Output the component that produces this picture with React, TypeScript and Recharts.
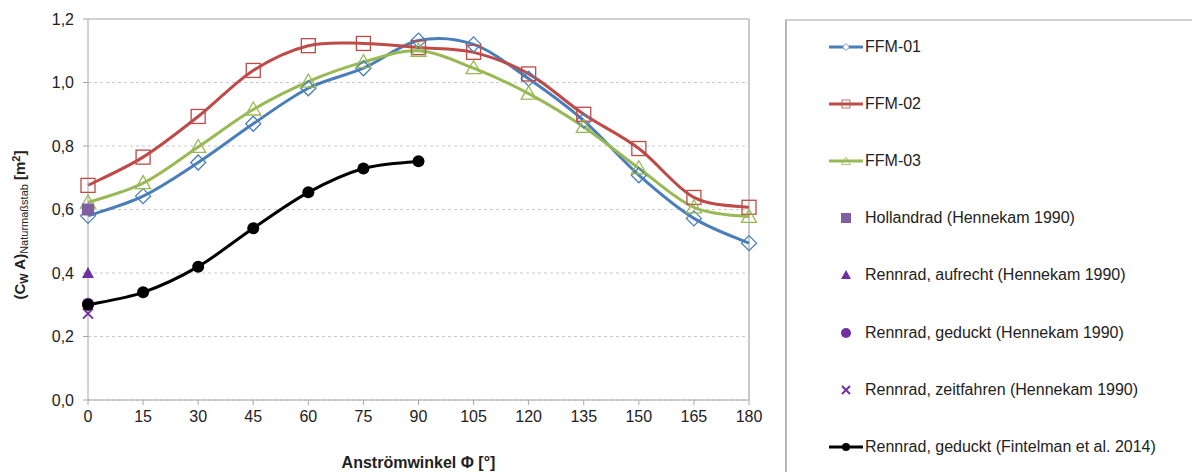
import React from "react"
import { ComposedChart, Line, XAxis, YAxis, CartesianGrid, ReferenceLine, Label } from "recharts"

// Anströmwinkel in Grad
const angles = [0, 15, 30, 45, 60, 75, 90, 105, 120, 135, 150, 165, 180]
const ffm01 = [0.58, 0.642, 0.748, 0.87, 0.982, 1.045, 1.132, 1.12, 1.012, 0.88, 0.708, 0.572, 0.494]
const ffm02 = [0.676, 0.765, 0.893, 1.038, 1.116, 1.123, 1.11, 1.095, 1.027, 0.9, 0.792, 0.638, 0.607]
const ffm03 = [0.622, 0.683, 0.797, 0.915, 1.003, 1.064, 1.1, 1.045, 0.965, 0.86, 0.73, 0.607, 0.577]

const fintelmanAngles = [0, 15, 30, 45, 60, 75, 90]
const fintelman = [0.3, 0.339, 0.42, 0.541, 0.654, 0.729, 0.752]

const hennekamAngle = 0
const hollandrad = 0.6
const rennradAufrecht = 0.4
const rennradGeduckt = 0.303
const rennradZeitfahren = 0.272

const xTicks = angles
const yTicks = [0, 0.2, 0.4, 0.6, 0.8, 1.0, 1.2]

const BLUE = "#4A7EBB"
const RED = "#BE4B48"
const GREEN = "#98B954"
const PURPLE = "#7030A0"
const PURPLE_SQ = "#7F5F9F"
const FONT = "Liberation Sans, Arial, sans-serif"

const toPoints = (xs: number[], ys: number[]) => xs.map((x, i) => ({ x, y: ys[i] }))

// Excel-like smoothed line (Catmull-Rom as bezier)
const excelSmooth = (context: any) => {
  let pts: number[][] = []
  return {
    areaStart() {},
    areaEnd() {},
    lineStart() {
      pts = []
    },
    lineEnd() {
      const n = pts.length
      if (!n) return
      context.moveTo(pts[0][0], pts[0][1])
      if (n === 2) context.lineTo(pts[1][0], pts[1][1])
      for (let i = 0; n > 2 && i < n - 1; i++) {
        const p0 = pts[Math.max(i - 1, 0)]
        const p1 = pts[i]
        const p2 = pts[i + 1]
        const p3 = pts[Math.min(i + 2, n - 1)]
        context.bezierCurveTo(
          p1[0] + (p2[0] - p0[0]) / 6,
          p1[1] + (p2[1] - p0[1]) / 6,
          p2[0] - (p3[0] - p1[0]) / 6,
          p2[1] - (p3[1] - p1[1]) / 6,
          p2[0],
          p2[1]
        )
      }
    },
    point(x: number, y: number) {
      pts.push([+x, +y])
    },
  }
}

const diamondDot = (p: any) => {
  const { cx, cy, index } = p
  const r = 7.5
  return (
    <path
      key={"d" + index}
      d={`M${cx},${cy - r}L${cx + r},${cy}L${cx},${cy + r}L${cx - r},${cy}Z`}
      fill="none"
      stroke={BLUE}
      strokeWidth={1.3}
    />
  )
}

const squareDot = (p: any) => {
  const { cx, cy, index } = p
  return (
    <rect key={"s" + index} x={cx - 7} y={cy - 7} width={14} height={14} fill="none" stroke={RED} strokeWidth={1.3} />
  )
}

const triangleDot = (p: any) => {
  const { cx, cy, index } = p
  return (
    <path
      key={"t" + index}
      d={`M${cx},${cy - 7.5}L${cx + 7.5},${cy + 5.5}L${cx - 7.5},${cy + 5.5}Z`}
      fill="none"
      stroke={GREEN}
      strokeWidth={1.3}
    />
  )
}

const blackDot = (p: any) => <circle key={"b" + p.index} cx={p.cx} cy={p.cy} r={6} fill="#000" />

const purpleSquare = (p: any) => (
  <rect key={"ps" + p.index} x={p.cx - 6} y={p.cy - 6} width={12} height={12} fill={PURPLE_SQ} />
)
const purpleTriangle = (p: any) => (
  <path key={"pt" + p.index} d={`M${p.cx},${p.cy - 6}L${p.cx + 6},${p.cy + 5}L${p.cx - 6},${p.cy + 5}Z`} fill={PURPLE} />
)
const purpleCircle = (p: any) => <circle key={"pc" + p.index} cx={p.cx} cy={p.cy} r={6} fill={PURPLE} />
const purpleCross = (p: any) => (
  <path
    key={"px" + p.index}
    d={`M${p.cx - 5},${p.cy - 5}L${p.cx + 5},${p.cy + 5}M${p.cx - 5},${p.cy + 5}L${p.cx + 5},${p.cy - 5}`}
    stroke={PURPLE}
    strokeWidth={2}
  />
)

const YTitle = () => (
  <text
    transform="translate(25, 225) rotate(-90)"
    textAnchor="middle"
    fontFamily={FONT}
    fontSize={15}
    fontWeight="bold"
    fill="#222"
  >
    <tspan>(C</tspan>
    <tspan fontSize={11} dy={3}>W</tspan>
    <tspan dy={-3}> A)</tspan>
    <tspan fontSize={11} fontWeight="normal" dy={3}>Naturmaßstab</tspan>
    <tspan dy={-3}> [m</tspan>
    <tspan fontSize={11} dy={-5}>2</tspan>
    <tspan dy={5}>]</tspan>
  </text>
)

const legendItems = [
  { label: "FFM-01", kind: "line", color: BLUE, marker: "diamond" },
  { label: "FFM-02", kind: "line", color: RED, marker: "square" },
  { label: "FFM-03", kind: "line", color: GREEN, marker: "triangle" },
  { label: "Hollandrad (Hennekam 1990)", kind: "point", color: PURPLE_SQ, marker: "fsquare" },
  { label: "Rennrad, aufrecht (Hennekam 1990)", kind: "point", color: PURPLE, marker: "ftriangle" },
  { label: "Rennrad, geduckt (Hennekam 1990)", kind: "point", color: PURPLE, marker: "fcircle" },
  { label: "Rennrad, zeitfahren (Hennekam 1990)", kind: "point", color: PURPLE, marker: "cross" },
  { label: "Rennrad, geduckt (Fintelman et al. 2014)", kind: "line", color: "#000", marker: "fcircle" },
]

const LegendIcon = ({ item }: { item: any }) => {
  const c = 18
  const cy = 10
  let marker: React.ReactNode = null
  switch (item.marker) {
    case "diamond":
      marker = <path d={`M${c},${cy - 3.5}L${c + 3.5},${cy}L${c},${cy + 3.5}L${c - 3.5},${cy}Z`} fill="#fff" stroke={item.color} strokeWidth={0.8} />
      break
    case "square":
      marker = <rect x={c - 4} y={cy - 4} width={8} height={8} fill="none" stroke={item.color} strokeWidth={0.8} />
      break
    case "triangle":
      marker = <path d={`M${c},${cy - 4}L${c + 4.5},${cy + 3.5}L${c - 4.5},${cy + 3.5}Z`} fill="none" stroke={item.color} strokeWidth={0.8} />
      break
    case "fsquare":
      marker = <rect x={c - 5} y={cy - 5} width={10} height={10} fill={item.color} />
      break
    case "ftriangle":
      marker = <path d={`M${c},${cy - 5}L${c + 5},${cy + 4}L${c - 5},${cy + 4}Z`} fill={item.color} />
      break
    case "fcircle":
      marker = <circle cx={c} cy={cy} r={item.kind === "line" ? 4 : 5} fill={item.color} />
      break
    case "cross":
      marker = (
        <path d={`M${c - 4},${cy - 4}L${c + 4},${cy + 4}M${c - 4},${cy + 4}L${c + 4},${cy - 4}`} stroke={item.color} strokeWidth={2} />
      )
      break
  }
  return (
    <svg width={36} height={20} style={{ display: "block" }}>
      {item.kind === "line" && <line x1={1} x2={35} y1={cy} y2={cy} stroke={item.color} strokeWidth={3} />}
      {marker}
    </svg>
  )
}

const LegendBox = () => (
  <div
    style={{
      position: "absolute",
      left: 785,
      top: 19,
      width: 420,
      height: 470,
      borderTop: "2px solid #D0D0D0",
      borderLeft: "2px solid #B8B8B8",
      fontFamily: FONT,
      fontSize: 16,
      color: "#222",
    }}
  >
    {legendItems.map((item, i) => (
      <div
        key={item.label}
        style={{ position: "absolute", left: 41, top: 16 + i * 57.1, display: "flex", alignItems: "center", whiteSpace: "nowrap" }}
      >
        <LegendIcon item={item} />
        <span style={{ marginLeft: 1 }}>{item.label}</span>
      </div>
    ))}
  </div>
)

const fmt = (v: number) => v.toFixed(1).replace(".", ",")

export default function App() {
  return (
    <div style={{ position: "absolute", left: 0, top: 0, width: 1192, height: 472, background: "#fff" }}>
      <ComposedChart width={1192} height={472} margin={{ top: 19, right: 443, left: 28, bottom: 42 }}>
        <CartesianGrid vertical={false} stroke="#C8C8C8" strokeDasharray="3 3" />
        <XAxis
          dataKey="x"
          type="number"
          domain={[0, 180]}
          ticks={xTicks}
          interval={0}
          height={30}
          stroke="#A6A6A6"
          tickSize={5}
          tickMargin={6}
          tick={{ fill: "#222", fontSize: 16, fontFamily: FONT }}
        >
          <Label
            value="Anströmwinkel Φ [°]"
            position="insideBottom"
            offset={-38}
            style={{ fontWeight: "bold", fontSize: 16, fill: "#222", fontFamily: FONT }}
          />
        </XAxis>
        <YAxis
          type="number"
          domain={[0, 1.2]}
          ticks={yTicks}
          interval={0}
          width={60}
          stroke="#A6A6A6"
          tickSize={5}
          tickMargin={9}
          tickFormatter={fmt}
          tick={{ fill: "#222", fontSize: 16, fontFamily: FONT }}
        >
          <Label content={<YTitle />} />
        </YAxis>
        <ReferenceLine y={1.2} stroke="#D0D0D0" strokeWidth={2} />
        <ReferenceLine x={180} stroke="#B8B8B8" strokeWidth={1.5} />
        <Line
          data={toPoints(angles, ffm01)}
          dataKey="y"
          type={excelSmooth as any}
          stroke={BLUE}
          strokeWidth={3}
          dot={diamondDot}
          isAnimationActive={false}
        />
        <Line
          data={toPoints(angles, ffm02)}
          dataKey="y"
          type={excelSmooth as any}
          stroke={RED}
          strokeWidth={3}
          dot={squareDot}
          isAnimationActive={false}
        />
        <Line
          data={toPoints(angles, ffm03)}
          dataKey="y"
          type={excelSmooth as any}
          stroke={GREEN}
          strokeWidth={3}
          dot={triangleDot}
          isAnimationActive={false}
        />
        <Line data={[{ x: hennekamAngle, y: hollandrad }]} dataKey="y" stroke="none" dot={purpleSquare} isAnimationActive={false} />
        <Line data={[{ x: hennekamAngle, y: rennradAufrecht }]} dataKey="y" stroke="none" dot={purpleTriangle} isAnimationActive={false} />
        <Line data={[{ x: hennekamAngle, y: rennradZeitfahren }]} dataKey="y" stroke="none" dot={purpleCross} isAnimationActive={false} />
        <Line data={[{ x: hennekamAngle, y: rennradGeduckt }]} dataKey="y" stroke="none" dot={purpleCircle} isAnimationActive={false} />
        <Line
          data={toPoints(fintelmanAngles, fintelman)}
          dataKey="y"
          type={excelSmooth as any}
          stroke="#000"
          strokeWidth={3}
          dot={blackDot}
          isAnimationActive={false}
        />
      </ComposedChart>
      <LegendBox />
    </div>
  )
}
